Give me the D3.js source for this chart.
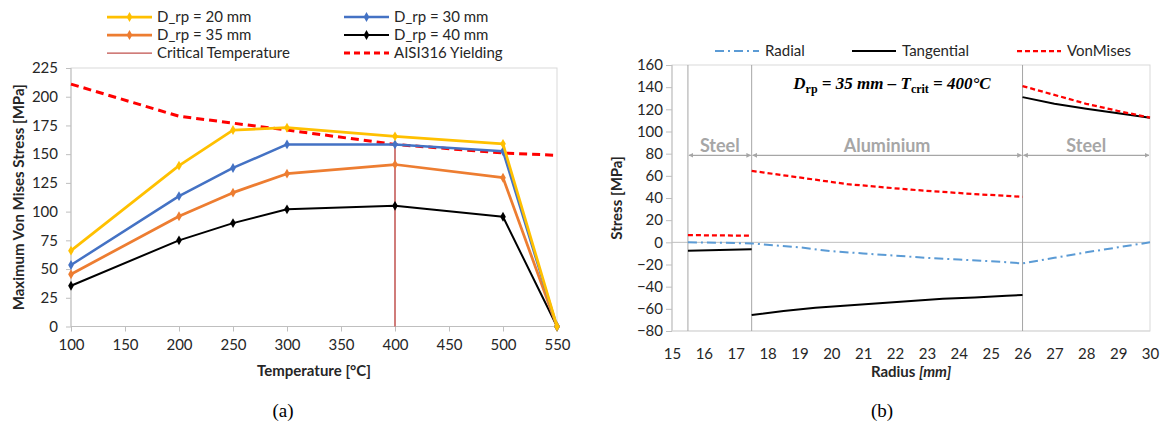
<!DOCTYPE html>
<html>
<head>
<meta charset="utf-8">
<script src="https://cdn.jsdelivr.net/npm/d3@7"></script>
<style>
  body { margin: 0; background: #fff; }
  text { font-family: Lato, "Open Sans", sans-serif; fill: #262626; }
</style>
</head>
<body>
<script>
// ---- data, chart (a) ----
const temps = [100, 200, 250, 300, 400, 500, 550];
const drp20 = [66, 140, 171, 173, 165.5, 159, 0];
const drp30 = [53.5, 113.5, 138, 158.5, 158.5, 152.5, 0];
const drp35 = [45.5, 96, 116.5, 133, 141, 129.5, 0];
const drp40 = [35.5, 75, 90, 102, 105, 95.5, 0];
const yieldStress = [211, 183, 177, 171, 158.5, 151, 149];
const critTemp = 400;
const critRange = [0, 159];
const tempTicks = d3.range(100, 551, 50);
const stressTicksA = d3.range(0, 226, 25);

// ---- data, chart (b) ----
const radialR = [15.5, 16.5, 17.5, 19, 20, 21, 22, 23, 24, 25, 26, 27, 28, 29, 30];
const radialV = [0, -0.3, -1, -4.5, -8, -10, -12, -14, -15.5, -17, -19, -14, -9, -4.5, 0];
const tangInR = [15.5, 17.5];
const tangInV = [-7.5, -6.3];
const tangAlR = [17.5, 18.5, 19.5, 20.5, 21.5, 22.5, 23.5, 24.5, 25.5, 26];
const tangAlV = [-65.5, -62, -59, -57, -55, -53, -51, -49.7, -48.3, -47.5];
const tangOutR = [26, 27, 28, 29, 30];
const tangOutV = [131, 125, 120.5, 116.5, 112.5];
const vmInR = [15.5, 17.5];
const vmInV = [6.5, 6];
const vmAlR = [17.5, 18.5, 19.5, 20.5, 21.5, 22.5, 23.5, 24.5, 25.5, 26];
const vmAlV = [64.5, 60.5, 56.5, 52.5, 50, 47.5, 45.5, 43.5, 42, 41];
const vmOutR = [26, 27, 28, 29, 30];
const vmOutV = [141, 133, 125, 118.5, 112.5];
const interfaces = [15.5, 17.5, 26];
const zones = [
  { label: "Steel", from: 15.5, to: 17.5 },
  { label: "Aluminium", from: 17.5, to: 26 },
  { label: "Steel", from: 26, to: 30 }
];
const radiusTicks = d3.range(15, 31, 1);
const stressTicksB = d3.range(-80, 161, 20);

const svg = d3.select("body").append("svg")
  .attr("width", 1161).attr("height", 428);

const defs = svg.append("defs");
defs.append("marker").attr("id", "arrowhead")
  .attr("viewBox", "0 0 10 10").attr("refX", 9).attr("refY", 5)
  .attr("markerWidth", 4).attr("markerHeight", 4)
  .attr("orient", "auto-start-reverse")
  .append("path").attr("d", "M0,0L10,5L0,10z").attr("fill", "#A6A6A6");

const zip = (xs, ys) => xs.map((x, i) => [x, ys[i]]);

function styleAxis(g) {
  g.select(".domain").remove();
  g.selectAll(".tick line").attr("stroke", "#BFBFBF");
  g.selectAll(".tick text").style("font-size", "15px").attr("fill", "#262626");
}

// ================= chart (a) =================
const xA = d3.scaleLinear().domain([100, 550]).range([71, 557]);
const yA = d3.scaleLinear().domain([0, 225]).range([326.5, 68]);
const gA = svg.append("g");

// plot border
gA.append("rect")
  .attr("x", xA(100)).attr("y", yA(225))
  .attr("width", xA(550) - xA(100)).attr("height", yA(0) - yA(225))
  .attr("fill", "none").attr("stroke", "#D9D9D9");

gA.append("g").attr("transform", `translate(0,${yA(0)})`)
  .call(d3.axisBottom(xA).tickValues(tempTicks).tickSize(5).tickPadding(8))
  .call(styleAxis);
gA.append("g").attr("transform", `translate(${xA(100)},0)`)
  .call(d3.axisLeft(yA).tickValues(stressTicksA).tickSize(5).tickPadding(8))
  .call(styleAxis);
gA.append("line")
  .attr("x1", xA(100)).attr("x2", xA(550)).attr("y1", yA(0)).attr("y2", yA(0))
  .attr("stroke", "#BFBFBF");
gA.append("line")
  .attr("x1", xA(100)).attr("x2", xA(100)).attr("y1", yA(0)).attr("y2", yA(225))
  .attr("stroke", "#BFBFBF");

// critical temperature
gA.append("line")
  .attr("x1", xA(critTemp)).attr("x2", xA(critTemp))
  .attr("y1", yA(critRange[0])).attr("y2", yA(critRange[1]))
  .attr("stroke", "#C0504D").attr("stroke-opacity", 0.75).attr("stroke-width", 2);

const lineA = d3.line().x(d => xA(d[0])).y(d => yA(d[1]));
const seriesA = [
  { name: "D_rp = 20 mm", vals: drp20, color: "#FFC000", w: 2.75 },
  { name: "D_rp = 30 mm", vals: drp30, color: "#4472C4", w: 2.5 },
  { name: "D_rp = 35 mm", vals: drp35, color: "#ED7D31", w: 2.75 },
  { name: "D_rp = 40 mm", vals: drp40, color: "#000000", w: 2 }
];
const diamond = d3.symbol().type(d3.symbolDiamond).size(28);

// yield line drawn below the data series
gA.append("path").datum(zip(temps, yieldStress))
  .attr("fill", "none").attr("stroke", "#FF0000").attr("stroke-width", 3)
  .attr("stroke-dasharray", "8,5").attr("d", lineA);

seriesA.slice().reverse().forEach(s => {
  const pts = zip(temps, s.vals);
  gA.append("path").datum(pts)
    .attr("fill", "none").attr("stroke", s.color).attr("stroke-width", s.w)
    .attr("stroke-linejoin", "round").attr("d", lineA);
  gA.selectAll(null).data(pts).enter().append("path")
    .attr("d", diamond).attr("fill", s.color)
    .attr("transform", d => `translate(${xA(d[0])},${yA(d[1])})`);
});

// legend (a)
const legA = [
  { name: "D_rp = 20 mm", color: "#FFC000", w: 2.75, mark: true, col: 0, row: 0 },
  { name: "D_rp = 30 mm", color: "#4472C4", w: 2.5, mark: true, col: 1, row: 0 },
  { name: "D_rp = 35 mm", color: "#ED7D31", w: 2.75, mark: true, col: 0, row: 1 },
  { name: "D_rp = 40 mm", color: "#000000", w: 2, mark: true, col: 1, row: 1 },
  { name: "Critical Temperature", color: "#C0504D", w: 1.25, mark: false, col: 0, row: 2 },
  { name: "AISI316 Yielding", color: "#FF0000", w: 3, mark: false, dash: "6,4", col: 1, row: 2 }
];
const legColX = [107, 344];
const legRowY = [17, 35, 53];
legA.forEach(d => {
  const x0 = legColX[d.col], y0 = legRowY[d.row];
  gA.append("line").attr("x1", x0).attr("x2", x0 + 45).attr("y1", y0).attr("y2", y0)
    .attr("stroke", d.color).attr("stroke-width", d.w)
    .attr("stroke-dasharray", d.dash || null);
  if (d.mark) {
    gA.append("path").attr("d", diamond).attr("fill", d.color)
      .attr("transform", `translate(${x0 + 22.5},${y0})`);
  }
  gA.append("text").attr("x", x0 + 50).attr("y", y0 + 5)
    .style("font-size", "15px").text(d.name);
});

gA.append("text")
  .attr("transform", "rotate(-90)")
  .attr("x", -(yA(0) + yA(225)) / 2).attr("y", 24)
  .attr("text-anchor", "middle")
  .style("font-size", "15px").style("font-weight", "bold")
  .text("Maximum Von Mises Stress [MPa]");
gA.append("text")
  .attr("x", (xA(100) + xA(550)) / 2).attr("y", 376)
  .attr("text-anchor", "middle")
  .style("font-size", "15px").style("font-weight", "bold")
  .text("Temperature [°C]");

// ================= chart (b) =================
const xB = d3.scaleLinear().domain([15, 30]).range([672, 1150]);
const yB = d3.scaleLinear().domain([-80, 160]).range([331, 65]);
const gB = svg.append("g");

gB.append("rect")
  .attr("x", xB(15)).attr("y", yB(160))
  .attr("width", xB(30) - xB(15)).attr("height", yB(-80) - yB(160))
  .attr("fill", "none").attr("stroke", "#D9D9D9");

gB.append("g").attr("transform", `translate(0,${yB(-80)})`)
  .call(d3.axisBottom(xB).tickValues(radiusTicks).tickSize(0).tickPadding(17))
  .call(styleAxis);
gB.append("g").attr("transform", `translate(${xB(15)},0)`)
  .call(d3.axisLeft(yB).tickValues(stressTicksB).tickSize(6).tickPadding(3))
  .call(styleAxis);
gB.append("line")
  .attr("x1", xB(15)).attr("x2", xB(15)).attr("y1", yB(-80)).attr("y2", yB(160))
  .attr("stroke", "#BFBFBF");
gB.append("line")
  .attr("x1", xB(15)).attr("x2", xB(30)).attr("y1", yB(-80)).attr("y2", yB(-80))
  .attr("stroke", "#D9D9D9");
gB.append("line")
  .attr("x1", xB(15)).attr("x2", xB(30)).attr("y1", yB(0)).attr("y2", yB(0))
  .attr("stroke", "#BFBFBF");
gB.selectAll(null).data(interfaces).enter().append("line")
  .attr("x1", d => xB(d)).attr("x2", d => xB(d))
  .attr("y1", yB(-80)).attr("y2", yB(160))
  .attr("stroke", "#A6A6A6").attr("stroke-width", 1);

// material zones
zones.forEach(z => {
  gB.append("line")
    .attr("x1", xB(z.from) + 1).attr("x2", xB(z.to) - 1)
    .attr("y1", yB(78.5)).attr("y2", yB(78.5))
    .attr("stroke", "#A6A6A6").attr("stroke-width", 1.2)
    .attr("marker-start", "url(#arrowhead)").attr("marker-end", "url(#arrowhead)");
  gB.append("text")
    .attr("x", (xB(z.from) + xB(z.to)) / 2).attr("y", yB(81.5))
    .attr("text-anchor", "middle")
    .style("font-size", "18px").style("font-weight", "bold")
    .style("fill", "#A6A6A6").text(z.label);
});

const lineB = d3.line().x(d => xB(d[0])).y(d => yB(d[1]));
const radialStyle = { color: "#5B9BD5", w: 2, dash: "9,4,2,4" };
const tangStyle = { color: "#000000", w: 2, dash: null };
const vmStyle = { color: "#FF0000", w: 2.25, dash: "5,3" };

function drawB(pts, st) {
  gB.append("path").datum(pts)
    .attr("fill", "none").attr("stroke", st.color).attr("stroke-width", st.w)
    .attr("stroke-dasharray", st.dash).attr("d", lineB);
}
drawB(zip(radialR, radialV), radialStyle);
drawB(zip(tangInR, tangInV), tangStyle);
drawB(zip(tangAlR, tangAlV), tangStyle);
drawB(zip(tangOutR, tangOutV), tangStyle);
drawB(zip(vmInR, vmInV), vmStyle);
drawB(zip(vmAlR, vmAlV), vmStyle);
drawB(zip(vmOutR, vmOutV), vmStyle);

// legend (b)
const legB = [
  { name: "Radial", st: radialStyle, x: 715 },
  { name: "Tangential", st: tangStyle, x: 852 },
  { name: "VonMises", st: vmStyle, x: 1017 }
];
legB.forEach(d => {
  gB.append("line").attr("x1", d.x).attr("x2", d.x + 44).attr("y1", 51).attr("y2", 51)
    .attr("stroke", d.st.color).attr("stroke-width", d.st.w)
    .attr("stroke-dasharray", d.st.dash);
  gB.append("text").attr("x", d.x + 50).attr("y", 56)
    .style("font-size", "15px").text(d.name);
});

// title inside plot
const title = gB.append("text")
  .attr("x", 892).attr("y", 89).attr("text-anchor", "middle")
  .style("font-family", "'Liberation Serif', 'Times New Roman', serif")
  .style("font-size", "17px").style("font-weight", "bold").style("font-style", "italic")
  .style("fill", "#000");
title.append("tspan").text("D");
title.append("tspan").attr("dy", 4).style("font-size", "12px").style("font-style", "normal").text("rp");
title.append("tspan").attr("dy", -4).text(" = 35 mm – T");
title.append("tspan").attr("dy", 4).style("font-size", "12px").style("font-style", "normal").text("crit");
title.append("tspan").attr("dy", -4).text(" = 400°C");

gB.append("text")
  .attr("transform", "rotate(-90)")
  .attr("x", -(yB(-80) + yB(160)) / 2).attr("y", 622)
  .attr("text-anchor", "middle")
  .style("font-size", "15px").style("font-weight", "bold")
  .text("Stress [MPa]");
const xt = gB.append("text")
  .attr("x", (xB(15) + xB(30)) / 2).attr("y", 377)
  .attr("text-anchor", "middle")
  .style("font-size", "15px").style("font-weight", "bold");
xt.append("tspan").text("Radius ");
xt.append("tspan").style("font-style", "italic").text("[mm]");

// captions
svg.append("text").attr("x", 283).attr("y", 417).attr("text-anchor", "middle")
  .style("font-family", "'Liberation Serif', 'Times New Roman', serif")
  .style("font-size", "19px").style("fill", "#000").text("(a)");
svg.append("text").attr("x", 882).attr("y", 417).attr("text-anchor", "middle")
  .style("font-family", "'Liberation Serif', 'Times New Roman', serif")
  .style("font-size", "19px").style("fill", "#000").text("(b)");
</script>
</body>
</html>
